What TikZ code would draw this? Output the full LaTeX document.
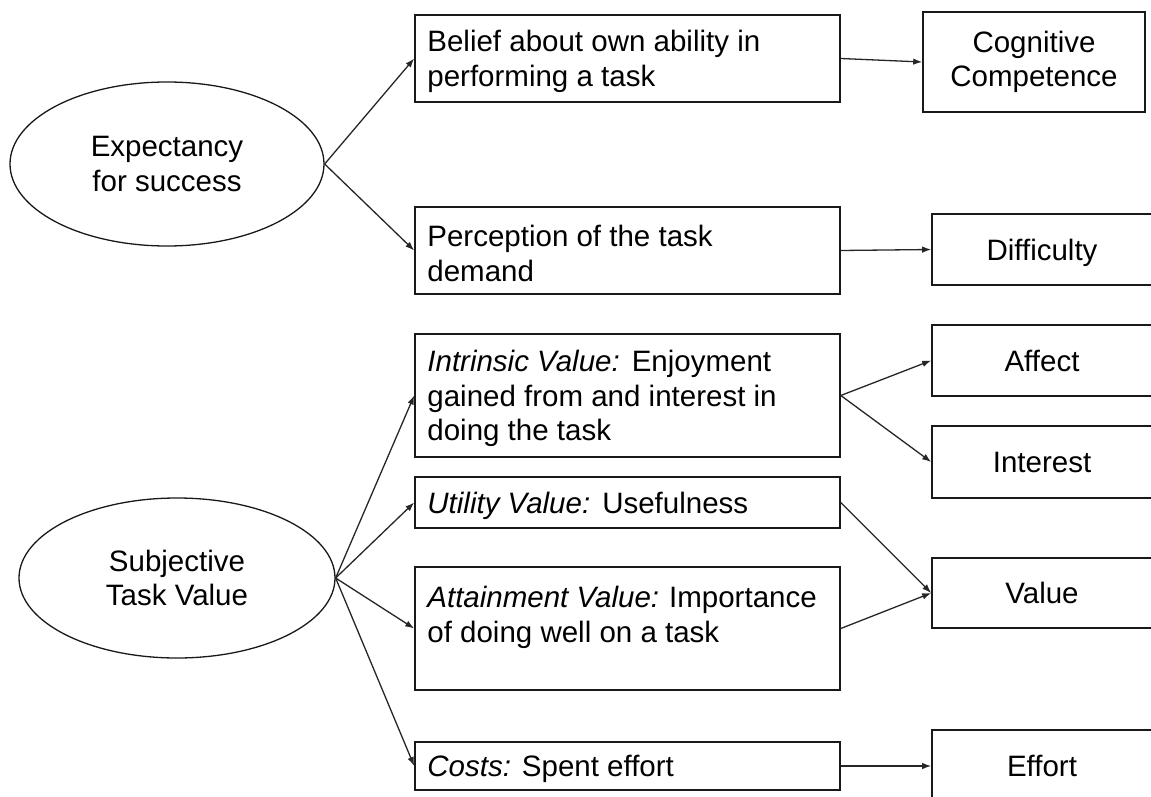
\documentclass[tikz,border=0pt]{standalone}
\usepackage{fontspec}
\setmainfont{Liberation Sans}
\usetikzlibrary{arrows.meta,shapes.geometric}
\begin{document}
\begin{tikzpicture}[x=1pt,y=-1pt,
  every node/.style={font=\fontsize{29.5}{34.5}\selectfont, text=black},
  lbox/.style={draw=black!90, line width=1.6pt, rectangle, minimum width=425pt, inner sep=0pt},
  ltext/.style={anchor=west, align=left, inner sep=0pt},
  rbox/.style={draw=black!90, line width=1.6pt, rectangle, minimum width=220pt,
               align=center, inner sep=0pt},
  construct/.style={draw=black!90, line width=1.3pt, ellipse, align=center, inner sep=0pt},
  link/.style={draw=black!85, line width=1.3pt, -{Latex[length=9pt,width=6.5pt]}}
]
\useasboundingbox (0,0) rectangle (1151,797);
\clip (0,0) rectangle (1151,797);

% constructs
\node[construct, minimum width=314pt, minimum height=164pt] (exp) at (167,164)
  {Expectancy\\for success};
\node[construct, minimum width=316pt, minimum height=160pt] (stv) at (177,578)
  {Subjective\\Task Value};

% middle column: frames
\node[lbox, minimum height=87pt]  (belief) at (627.5,58.5)  {};
\node[lbox, minimum height=87pt]  (percep) at (627.5,250.5) {};
\node[lbox, minimum height=123pt] (intr)   at (627.5,395.5) {};
\node[lbox, minimum height=51pt]  (util)   at (627.5,502.5) {};
\node[lbox, minimum height=123pt] (attain) at (627.5,628.5) {};
\node[lbox, minimum height=48pt]  (costs)  at (627.5,766)   {};

% middle column: texts
\node[ltext] (belief-t) at ([xshift=13pt,yshift=-3pt]belief.west)
  {Belief about own ability in\\performing a task};
\node[ltext] (percep-t) at ([xshift=13pt,yshift=-3pt]percep.west)
  {Perception of the task\\demand};
\node[ltext] (intr-t) at ([xshift=13pt,yshift=-3pt]intr.west)
  {\textit{Intrinsic Value:}\hspace{12pt}Enjoyment\\gained from and interest in\\doing the task};
\node[ltext] (util-t) at ([xshift=13pt,yshift=-3pt]util.west)
  {\textit{Utility Value:}\hspace{12pt}Usefulness};
\node[ltext] (attain-t) at ([xshift=13pt,yshift=-3pt]attain.west)
  {\textit{Attainment Value:}\hspace{10pt}Importance\\of doing well on a task\\\mbox{}};
\node[ltext] (costs-t) at ([xshift=13pt,yshift=-3pt]costs.west)
  {\textit{Costs:} Spent effort};

% right column
\node[rbox, minimum width=222pt, minimum height=100pt] (cog) at (1034,62)
  {Cognitive\\Competence};
\node[rbox, minimum height=71pt, text depth=0pt] (diff) at (1042,249.5) {Difficulty};
\node[rbox, minimum height=71pt] (affect) at (1042,360.5) {Affect};
\node[rbox, minimum height=72pt] (inter) at (1042,462) {Interest};
\node[rbox, minimum height=70pt] (value) at (1042,593) {Value};
\node[rbox, minimum height=72pt] (effort) at (1042,766) {Effort};

% connectors
\draw[link] (exp.east) -- (belief.west);
\draw[link] (exp.east) -- (percep.west);
\draw[link] (stv.east) -- (intr.west);
\draw[link] (stv.east) -- (util.west);
\draw[link] (stv.east) -- (attain.west);
\draw[link] (stv.east) -- (costs.west);

\draw[link] (belief.east) -- (cog.west);
\draw[link] (percep.east) -- (diff.west);
\draw[link] (intr.east) -- (affect.west);
\draw[link] (intr.east) -- (inter.west);
\draw[link] (util.east) -- (value.west);
\draw[link] (attain.east) -- (value.west);
\draw[link] (costs.east) -- (effort.west);
\end{tikzpicture}
\end{document}
